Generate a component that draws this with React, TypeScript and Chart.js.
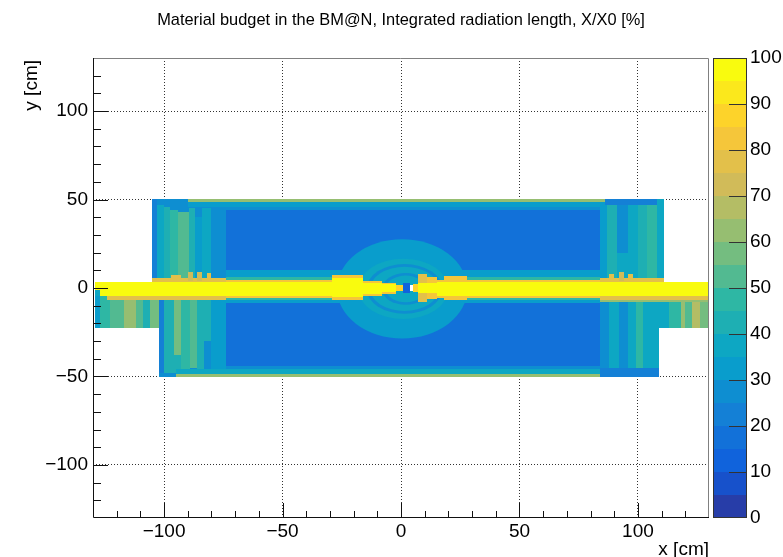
import React, { useEffect, useRef } from 'react';
import { Chart, registerables } from 'chart.js';

Chart.register(...registerables);

const TITLE = 'Material budget in the BM@N, Integrated radiation length, X/X0 [%]';
const X_TITLE = 'x [cm]';
const Y_TITLE = 'y [cm]';
const X_RANGE = [-130, 130];
const Y_RANGE = [-130, 130];
const Z_RANGE = [0, 100];
const X_TICKS = [-100, -50, 0, 50, 100];
const Y_TICKS = [-100, -50, 0, 50, 100];
const X_MINOR = [-120, -110, -90, -80, -70, -60, -40, -30, -20, -10, 10, 20, 30, 40, 60, 70, 80, 90, 110, 120];
const Y_MINOR = [-120, -110, -90, -80, -70, -60, -40, -30, -20, -10, 10, 20, 30, 40, 60, 70, 80, 90, 110, 120];
const Z_TICKS = [0, 10, 20, 30, 40, 50, 60, 70, 80, 90, 100];
const Z_STEP = 5;

// ROOT kBird palette, 20 contour levels (0-5, 5-10, ... 95-100)
const PALETTE = [
  'rgb(39,61,168)', 'rgb(23,81,203)', 'rgb(16,99,220)', 'rgb(18,113,217)', 'rgb(20,128,214)',
  'rgb(14,142,209)', 'rgb(9,157,204)', 'rgb(13,167,195)', 'rgb(30,175,179)', 'rgb(46,183,164)',
  'rgb(82,186,145)', 'rgb(116,189,128)', 'rgb(150,190,113)', 'rgb(180,189,101)', 'rgb(209,187,89)',
  'rgb(227,192,74)', 'rgb(245,198,58)', 'rgb(253,211,42)', 'rgb(251,232,28)', 'rgb(249,251,14)',
];

// Cells: [x0, x1, y0, y1, X/X0 %]  (value < 0 : empty)
const BODY_CELLS = [
  [-105, 111, 0, 50.5, 27],
  [-102, 109, -50.5, 0, 27],
  [-129, 130, -22.5, 3.5, 47],
];

const LEFT_UPPER_CELLS = [
  [-105, -103, 3.5, 50.5, 22],
  [-103, -100, 4, 47, 37],
  [-100, -97.5, 4, 46, 42],
  [-97.5, -94, 4, 44, 48],
  [-94, -89.5, 4, 43, 53],
  [-89.5, -87, 4, 45, 43],
  [-87, -84, 4, 40, 32],
  [-84, -80, 4, 45, 38],
  [-80, -74, 4, 42, 28],
  [-100, -74, 46, 50.5, 26],
];

const LEFT_LOWER_CELLS = [
  [-129, -127, -22.5, -1, 30],
  [-127, -123, -22.5, -5, 47],
  [-123, -117, -22.5, -5, 53],
  [-117, -112, -22.5, -5, 63],
  [-112, -109, -22.5, -5, 52],
  [-109, -106, -22.5, -5, 42],
  [-106, -102, -22.5, -5, 57],
  [-102, -100, -50.5, -5, 22],
  [-100, -96, -50.5, -5, 40],
  [-96, -93, -38, -5, 57],
  [-96, -93, -50.5, -38, 43],
  [-93, -89, -50.5, -5, 47],
  [-89, -86, -45, -5, 52],
  [-86, -83, -50.5, -5, 42],
  [-83, -80, -30, -5, 40],
  [-83, -80, -50.5, -30, 27],
  [-80, -74, -50.5, -5, 32],
  [-102, -74, -50.5, -48, 27],
];

const RIGHT_UPPER_CELLS = [
  [82, 87, 4, 47, 33],
  [87, 91, 4, 47, 42],
  [91, 96, 20, 47, 27],
  [91, 96, 4, 20, 38],
  [96, 100, 4, 47, 37],
  [100, 104, 4, 47, 43],
  [104, 108, 4, 47, 47],
  [108, 111, 4, 50.5, 37],
  [86, 108, 47, 50.5, 22],
];

const RIGHT_LOWER_CELLS = [
  [82, 88, -50.5, -5, 27],
  [88, 92, -50.5, -5, 37],
  [92, 96, -50.5, -5, 28],
  [96, 99, -45, -5, 38],
  [99, 102, -45, -5, 47],
  [102, 109, -45, -5, 37],
  [84, 109, -50.5, -45, 23],
  [109, 113, -22.5, -5, 37],
  [113, 118, -22.5, -5, 47],
  [118, 120, -22.5, -5, 62],
  [120, 123, -22.5, -5, 52],
  [123, 126, -22.5, -5, 67],
  [126, 130, -22.5, -5, 57],
  [84, 130, -8, -5, 62],
];

const CENTRAL_CELLS = [
  [-74, 84, 10, 44, 17],
  [-74, 84, -44, -8.5, 17],
  [-90, 86, 48.5, 50.5, 62],
  [-90, 86, 46, 48.5, 33],
  [-74, 84, 44, 46, 27],
  [-95, 84, -50.5, -48.5, 62],
  [-95, 84, -48.5, -46, 37],
  [-74, 84, -46, -44, 28],
  [-74, 84, -8.5, 10, 33],
  [-74, 84, -6.5, 6, 47],
];

// Ellipses: [cx, cy, rx, ry, X/X0 %]
const ELLIPSES = [
  [0.5, -0.5, 27.5, 28, 33],
  [1, -0.5, 19, 17, 38],
  [1.5, -0.5, 16, 14, 29],
  [1.5, -0.5, 14.5, 12.5, 38],
  [2, -0.5, 10, 9, 29],
  [2, -0.5, 8.5, 7.5, 36],
];

const BEAM_EDGE_CELLS = [
  [-124, -105, -6.5, 3.5, 78],
  [-105, -74, -6.5, 5.5, 78],
  [-97, -93, 4, 7.5, 77],
  [-90, -88, 4, 9, 72],
  [-86, -84, 4, 9, 72],
  [-82, -80, 4, 8.5, 77],
  [-127, -124, -4, 3.5, 80],
  [-74, -29, -5.5, 4.5, 82],
  [-29, -16, -7, 7.5, 80],
  [-16, -8, -4.5, 4, 82],
  [-8, -2, -3.5, 3, 82],
  [-2, 1, -1.5, 1.5, 85],
  [7, 11, -8, 8, 78],
  [11, 15, -6, 6, 80],
  [15, 18, -5.5, 4.5, 82],
  [18, 28, -7, 7, 80],
  [28, 84, -5.5, 4.5, 82],
  [84, 111, -6.5, 5.5, 78],
  [111, 130, -6.5, 3.5, 78],
  [88, 90, 4, 8, 75],
  [92, 94, 4, 9, 72],
  [96, 98, 4, 8, 77],
];

const BEAM_CORE_CELLS = [
  [-129, -29, -4.5, 3.5, 98],
  [-29, -16, -5, 5.5, 98],
  [-16, -8, -3.5, 3, 98],
  [-8, -2, -2.5, 2, 98],
  [5, 7, -2.5, 2.5, 88],
  [7, 15, -3, 3, 98],
  [15, 130, -4.5, 3.5, 98],
  [-129, -127, -4.5, -1, 35],
  [1, 4, -3, 3, 12],
  [4, 5, -1.5, 1.5, -1],
];

const CELL_LAYERS = [BODY_CELLS, LEFT_UPPER_CELLS, LEFT_LOWER_CELLS, RIGHT_UPPER_CELLS, RIGHT_LOWER_CELLS, CENTRAL_CELLS];
const TOP_LAYERS = [BEAM_EDGE_CELLS, BEAM_CORE_CELLS];

const FONT = '"Liberation Sans", Arial, Helvetica, sans-serif';

function colorFor(v: number): string {
  if (v < 0) return '#ffffff';
  const i = Math.max(0, Math.min(PALETTE.length - 1, Math.floor(v / Z_STEP)));
  return PALETTE[i];
}

function fmt(v: number): string {
  return v < 0 ? '\u2212' + Math.abs(v) : String(v);
}

const heatPlugin = {
  id: 'heatmap',
  beforeDatasetsDraw(chart: any) {
    const { ctx, chartArea: a, scales } = chart;
    const xs = scales.x;
    const ys = scales.y;
    ctx.save();
    ctx.beginPath();
    ctx.rect(a.left, a.top, a.right - a.left, a.bottom - a.top);
    ctx.clip();
    const drawCells = (cells: number[][]) => {
      for (const c of cells) {
        const x0 = Math.round(xs.getPixelForValue(c[0]));
        const x1 = Math.round(xs.getPixelForValue(c[1]));
        const y0 = Math.round(ys.getPixelForValue(c[3]));
        const y1 = Math.round(ys.getPixelForValue(c[2]));
        ctx.fillStyle = colorFor(c[4]);
        ctx.fillRect(x0, y0, x1 - x0, y1 - y0);
      }
    };
    CELL_LAYERS.forEach(drawCells);
    for (const e of ELLIPSES) {
      const cx = xs.getPixelForValue(e[0]);
      const cy = ys.getPixelForValue(e[1]);
      const rx = Math.abs(xs.getPixelForValue(e[0] + e[2]) - cx);
      const ry = Math.abs(ys.getPixelForValue(e[1] + e[3]) - cy);
      ctx.fillStyle = colorFor(e[4]);
      ctx.beginPath();
      ctx.ellipse(cx, cy, rx, ry, 0, 0, Math.PI * 2);
      ctx.fill();
    }
    TOP_LAYERS.forEach(drawCells);
    ctx.restore();
  },
  afterDraw(chart: any) {
    const { ctx, chartArea: a, scales } = chart;
    const xs = scales.x;
    const ys = scales.y;
    const zs = scales.z;
    ctx.save();
    // frame
    ctx.lineWidth = 1;
    ctx.strokeStyle = '#808080';
    ctx.beginPath();
    ctx.moveTo(a.left, a.top + 0.5);
    ctx.lineTo(a.right - 0.5, a.top + 0.5);
    ctx.lineTo(a.right - 0.5, a.bottom);
    ctx.stroke();
    ctx.strokeStyle = '#111';
    ctx.beginPath();
    ctx.moveTo(a.left + 0.5, a.top);
    ctx.lineTo(a.left + 0.5, a.bottom - 0.5);
    ctx.lineTo(a.right, a.bottom - 0.5);
    ctx.stroke();
    // ticks
    ctx.strokeStyle = '#111';
    ctx.beginPath();
    for (const v of X_TICKS) {
      const x = Math.round(xs.getPixelForValue(v)) + 0.5;
      ctx.moveTo(x, a.bottom); ctx.lineTo(x, a.bottom - 15);
    }
    for (const v of X_MINOR) {
      const x = Math.round(xs.getPixelForValue(v)) + 0.5;
      ctx.moveTo(x, a.bottom); ctx.lineTo(x, a.bottom - 7);
    }
    for (const v of Y_TICKS) {
      const y = Math.round(ys.getPixelForValue(v)) + 0.5;
      ctx.moveTo(a.left, y); ctx.lineTo(a.left + 15, y);
    }
    for (const v of Y_MINOR) {
      const y = Math.round(ys.getPixelForValue(v)) + 0.5;
      ctx.moveTo(a.left, y); ctx.lineTo(a.left + 8, y);
    }
    ctx.stroke();
    // colour bar
    const barL = a.right + 4;
    const barR = a.right + 38;
    for (let i = 0; i < PALETTE.length; i++) {
      const yTop = Math.round(zs.getPixelForValue((i + 1) * Z_STEP));
      const yBot = Math.round(zs.getPixelForValue(i * Z_STEP));
      ctx.fillStyle = PALETTE[i];
      ctx.fillRect(barL, yTop, barR - barL, yBot - yTop);
    }
    ctx.strokeStyle = '#333';
    ctx.strokeRect(barL + 0.5, Math.round(zs.getPixelForValue(Z_RANGE[1])) + 0.5, barR - barL - 1, Math.round(zs.getPixelForValue(Z_RANGE[0]) - zs.getPixelForValue(Z_RANGE[1])) - 1);
    ctx.beginPath();
    for (const v of Z_TICKS) {
      if (v === Z_RANGE[0] || v === Z_RANGE[1]) continue;
      const y = Math.round(zs.getPixelForValue(v)) + 0.5;
      ctx.moveTo(barR - 18, y); ctx.lineTo(barR, y);
    }
    ctx.stroke();
    // titles
    ctx.fillStyle = '#000';
    ctx.font = '16.4px ' + FONT;
    ctx.textAlign = 'center';
    ctx.textBaseline = 'middle';
    ctx.fillText(TITLE, 401, 20);
    ctx.font = '19px ' + FONT;
    ctx.textAlign = 'right';
    ctx.textBaseline = 'alphabetic';
    ctx.fillText(X_TITLE, a.right, 555);
    ctx.save();
    ctx.translate(37, a.top + 2);
    ctx.rotate(-Math.PI / 2);
    ctx.textAlign = 'right';
    ctx.textBaseline = 'alphabetic';
    ctx.fillText(Y_TITLE, 0, 0);
    ctx.restore();
    ctx.restore();
  },
};

const tickFont = { family: FONT, size: 19 };

export default function App() {
  const ref = useRef<HTMLCanvasElement | null>(null);
  useEffect(() => {
    if (!ref.current) return;
    const chart = new Chart(ref.current, {
      type: 'scatter',
      data: { datasets: [{ data: [], xAxisID: 'x', yAxisID: 'y' }] },
      options: {
        animation: false,
        responsive: false,
        maintainAspectRatio: false,
        layout: { padding: { top: 58, left: 0, right: 0, bottom: 0 } },
        plugins: { legend: { display: false }, tooltip: { enabled: false }, title: { display: false } },
        scales: {
          x: {
            type: 'linear', position: 'bottom', min: X_RANGE[0], max: X_RANGE[1], z: 1,
            afterBuildTicks: (s: any) => { s.ticks = X_TICKS.map((v) => ({ value: v })); },
            afterFit: (s: any) => { s.height = 39; },
            grid: { color: '#333', drawTicks: false },
            border: { display: false, dash: [1, 2] },
            ticks: { font: tickFont, color: '#000', padding: 2, maxRotation: 0, autoSkip: false, callback: (v: any) => fmt(Number(v)) },
          },
          y: {
            type: 'linear', position: 'left', min: Y_RANGE[0], max: Y_RANGE[1], z: 1,
            afterBuildTicks: (s: any) => { s.ticks = Y_TICKS.map((v) => ({ value: v })); },
            afterFit: (s: any) => { s.width = 93; },
            grid: { color: '#333', drawTicks: false },
            border: { display: false, dash: [1, 2] },
            ticks: { font: tickFont, color: '#000', padding: 5, autoSkip: false, callback: (v: any) => fmt(Number(v)) },
          },
          z: {
            type: 'linear', axis: 'y', position: 'right', min: Z_RANGE[0], max: Z_RANGE[1],
            afterBuildTicks: (s: any) => { s.ticks = Z_TICKS.map((v) => ({ value: v })); },
            afterFit: (s: any) => { s.width = 74; },
            grid: { display: true, drawOnChartArea: false, drawTicks: true, tickLength: 41, color: 'rgba(0,0,0,0)' },
            border: { display: false },
            ticks: { font: tickFont, color: '#000', padding: 0, autoSkip: false },
          },
        },
      } as any,
      plugins: [heatPlugin],
    });
    return () => chart.destroy();
  }, []);
  return (
    <div style={{ position: 'fixed', left: 0, top: 0, width: 783, height: 557, background: '#fff' }}>
      <canvas ref={ref} width={783} height={557} style={{ display: 'block' }} />
    </div>
  );
}
